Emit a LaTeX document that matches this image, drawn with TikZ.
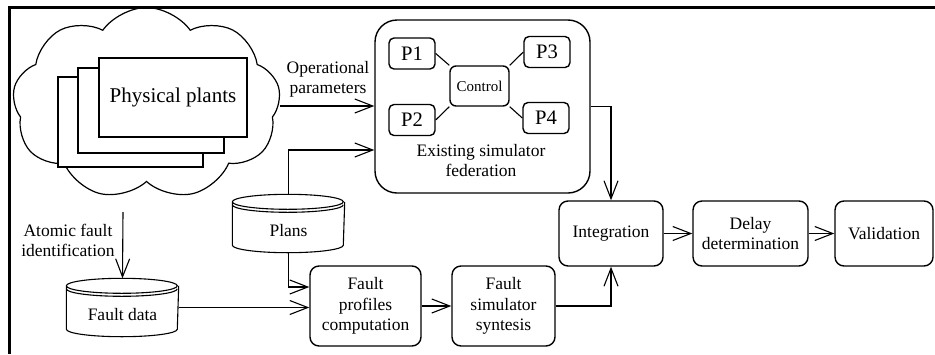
\documentclass[tikz,border=0pt]{standalone}
\usepackage{fontspec}
\setmainfont{Liberation Serif}
\usetikzlibrary{shapes.symbols,arrows.meta}
\tikzset{every path/.style={line width=0.55pt}}
\tikzset{
  rbox/.style={draw, line width=0.7pt, rounded corners=4.5pt, align=center, inner sep=0pt, font=\fontsize{8.75}{10.25}\selectfont},
  pbox/.style={draw, line width=0.7pt, rounded corners=2.5pt, minimum width=23pt, minimum height=15.5pt, inner sep=0pt, font=\fontsize{10.3}{12}\selectfont},
  plant/.style={draw, fill=white, line width=0.7pt, inner sep=0pt},
  lbl/.style={align=center, font=\fontsize{8.75}{10}\selectfont},
  conn/.style={-{Straight Barb[length=9pt,width=7pt]}},
  dbstore/.style={minimum width=55.5pt, minimum height=28.5pt, inner sep=0pt, text height=13pt, text depth=0pt, line width=0.7pt, font=\fontsize{8.75}{10}\selectfont,
    append after command={
      ([yshift=-3.75pt]\tikzlastnode.north west) arc[start angle=180, end angle=540, x radius=27.75pt, y radius=3.75pt]
      ([yshift=-5.25pt]\tikzlastnode.north west) arc[start angle=180, end angle=360, x radius=27.75pt, y radius=3.75pt]
      ([yshift=-3.75pt]\tikzlastnode.north west) -- ([yshift=3.75pt]\tikzlastnode.south west)
        arc[start angle=180, end angle=360, x radius=27.75pt, y radius=3.75pt] -- ([yshift=-3.75pt]\tikzlastnode.north east)
    }}
}

\begin{document}
\begin{tikzpicture}[x=0.5pt,y=0.5pt]
\useasboundingbox (0,0) rectangle (935,-354);
\draw[line width=1.25pt] (9.5,-354) -- (9.5,-7.5) -- (935,-7.5);

\node[cloud, draw, cloud puffs=9, cloud puff arc=110, aspect=1.4, minimum width=134pt, minimum height=96pt, line width=0.6pt] (cloudy) at (146.5,-103.5) {};
\node[plant, minimum width=72.5pt, minimum height=45pt] (plant3) at (130.5,-122) {};
\node[plant, minimum width=73pt, minimum height=42.5pt] (plant2) at (151,-110.5) {};
\node[plant, minimum width=74pt, minimum height=39.5pt, font=\fontsize{10.5}{12}\selectfont] (plant1) at (173,-97.5) {Physical plants};

\node[lbl] (oplbl) at (328,-79) {Operational\\parameters};
\node[lbl] (atlbl) at (68,-240) {Atomic fault\\identification};
\coordinate (opin) at (280,-106);
\coordinate (atin) at (123,-212);

\node[draw, line width=0.7pt, rounded corners=11pt, minimum width=107.5pt, minimum height=86.5pt] (fed) at (482.5,-106.5) {};
\node[lbl] (fedlbl) at (481,-161) {Existing simulator\\federation};
\node[pbox] (p1) at (412,-53.5) {P1};
\node[pbox] (p2) at (412,-120) {P2};
\node[pbox] (p3) at (547,-52) {P3};
\node[pbox] (p4) at (546,-118) {P4};
\node[pbox, minimum width=29.5pt, minimum height=20pt, rounded corners=3pt, font=\fontsize{7.5}{9}\selectfont] (ctrl) at (479.5,-86) {Control};
\draw (p1.east) -- (ctrl.north west);
\draw (p2.east) -- (ctrl.south west);
\draw (p3.west) -- (ctrl.north east);
\draw (p4.west) -- (ctrl.south east);

\draw (122.5,-307.5) node[dbstore] (fdata) {Fault data};
\draw (288.5,-223.5) node[dbstore] (plans) {Plans};
\node[rbox, minimum width=55.5pt, minimum height=40pt] (prof) at (365.5,-306) {Fault\\profiles\\computation};
\node[rbox, minimum width=51.5pt, minimum height=40pt] (fsim) at (503.5,-306) {Fault\\simulator\\syntesis};
\node[rbox, minimum width=52pt, minimum height=32.5pt] (integ) at (611,-233.5) {Integration};
\node[rbox, minimum width=57.5pt, minimum height=32.5pt] (delay) at (750.5,-233.5) {Delay\\determination};
\node[rbox, minimum width=49pt, minimum height=32.5pt] (valid) at (884,-233.5) {Validation};

\draw[conn] (opin) -- (fed.west |- opin);
\draw[conn] (atin) -- (fdata.north);
\draw[conn] (plans.north) |- ([yshift=-21.75pt]fed.west);
\draw[conn] (plans.south) |- ([yshift=9.5pt]prof.west);
\draw[conn] (fdata.east) -- (fdata.east -| prof.west);
\draw[conn] (prof) -- (fsim);
\draw[conn] (fsim.east) -| (integ.south);
\draw[conn] (fed.east) -| (integ.north);
\draw[conn] (integ) -- (delay);
\draw[conn] (delay) -- (valid);

\end{tikzpicture}
\end{document}
